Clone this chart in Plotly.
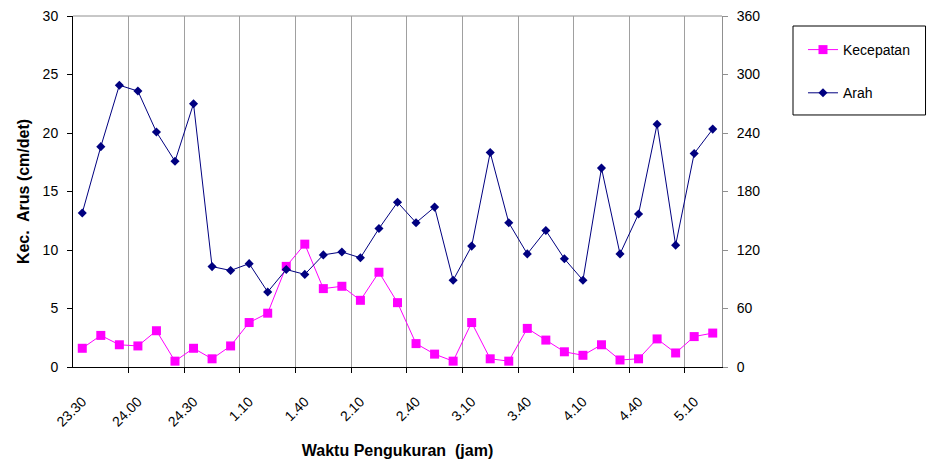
import plotly.graph_objects as go

# Measurement times (10-minute steps)
times = ["23.30", "23.40", "23.50", "24.00", "24.10", "24.20", "24.30", "24.40", "24.50",
         "1.10", "1.20", "1.30", "1.40", "1.50", "2.00", "2.10", "2.20", "2.30",
         "2.40", "2.50", "3.00", "3.10", "3.20", "3.30", "3.40", "3.50", "4.00",
         "4.10", "4.20", "4.30", "4.40", "4.50", "5.00", "5.10", "5.20"]

# Current speed (cm/det), left axis
kecepatan = [1.6, 2.7, 1.9, 1.8, 3.1, 0.5, 1.6, 0.7, 1.8,
             3.8, 4.6, 8.6, 10.5, 6.7, 6.9, 5.7, 8.1, 5.5,
             2.0, 1.1, 0.5, 3.8, 0.7, 0.5, 3.3, 2.3, 1.3,
             1.0, 1.9, 0.6, 0.7, 2.4, 1.2, 2.6, 2.9]

# Current direction (degrees), right axis
arah = [158, 226, 289, 283, 241, 211, 270, 103, 99,
        106, 77, 100, 95, 115, 118, 112, 142, 169,
        148, 164, 89, 124, 220, 148, 116, 140, 111,
        89, 204, 116, 157, 249, 125, 219, 244]

idx = list(range(len(times)))
tick_idx = idx[::3]
tick_text = times[::3]
grid_idx = [i - 0.5 for i in idx[::3]][1:]

FONT = "Arial, Liberation Sans, sans-serif"

fig = go.Figure()
fig.add_trace(go.Scatter(
    x=idx, y=kecepatan, name="Kecepatan", mode="lines+markers",
    line=dict(color="#FF00FF", width=1),
    marker=dict(symbol="square", size=9, color="#FF00FF"),
    legendgroup="a", yaxis="y"))
fig.add_trace(go.Scatter(
    x=idx, y=arah, name="Arah", mode="lines+markers",
    line=dict(color="#000080", width=1),
    marker=dict(symbol="diamond", size=7, color="#000080"),
    legendgroup="b", yaxis="y2"))

fig.update_layout(
    width=927, height=465,
    margin=dict(l=73, r=205, t=16, b=98, autoexpand=False),
    paper_bgcolor="white", plot_bgcolor="white",
    font=dict(family=FONT, size=14, color="black"),
    showlegend=True,
    legend=dict(x=1.1248, y=0.9487, xanchor="left", yanchor="top",
                borderwidth=0, bgcolor="rgba(0,0,0,0)",
                font=dict(size=14), tracegroupgap=22,
                traceorder="grouped", itemwidth=30),
    xaxis=dict(
        range=[-0.5, len(times) - 0.5],
        tickmode="array", tickvals=tick_idx, ticktext=tick_text,
        tickangle=-45, ticks="", showgrid=False, ticklabelstandoff=20,
        showline=True, linecolor="black", linewidth=1,
        zeroline=False,
        minor=dict(tickmode="array", tickvals=grid_idx, showgrid=True,
                   gridcolor="#a0a0a0", gridwidth=1,
                   ticks="outside", ticklen=5, tickcolor="black"),
        title=dict(text="<b>Waktu Pengukuran\u00a0 (jam)</b>",
                   font=dict(size=16), standoff=16),
    ),
    yaxis=dict(
        range=[0, 30], dtick=5, ticks="outside", ticklen=5,
        tickcolor="black", showline=True, linecolor="black",
        showgrid=False, zeroline=False, ticklabelstandoff=6,
        title=dict(text="<b>Kec.\u00a0 Arus (cm/det)</b>",
                   font=dict(size=16), standoff=9),
    ),
    yaxis2=dict(
        range=[0, 360], dtick=60, overlaying="y", side="right",
        ticks="outside", ticklen=5, tickcolor="#909090",
        showline=True, linecolor="#909090", ticklabelstandoff=6,
        showgrid=False, zeroline=False,
    ),
    shapes=[
        # top edge of the plot area
        dict(type="line", xref="paper", yref="paper",
             x0=0, x1=1, y0=1, y1=1,
             line=dict(color="#909090", width=1), layer="below"),
        # legend frame
        dict(type="rect", xref="paper", yref="paper",
             x0=1.1094, x1=1.3136, y0=0.718, y1=0.9715,
             line=dict(color="black", width=1), fillcolor="rgba(0,0,0,0)"),
    ],
)

fig.write_html("out.html")
